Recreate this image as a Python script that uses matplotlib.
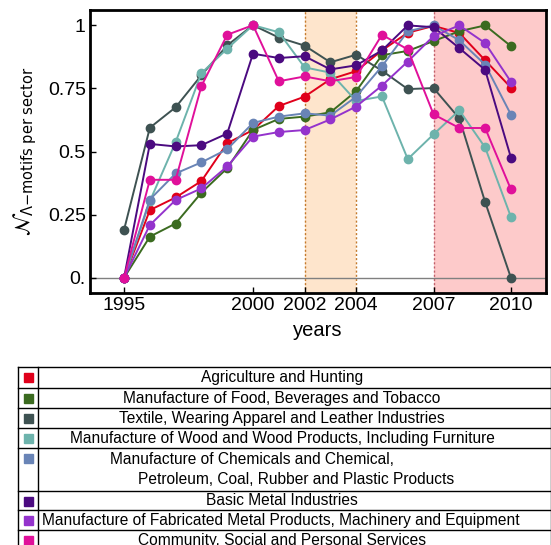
import matplotlib
matplotlib.use('Agg')
import matplotlib.pyplot as plt
from matplotlib.patches import Rectangle

plt.rcParams['font.family'] = ['Liberation Sans', 'DejaVu Sans']
plt.rcParams['mathtext.fontset'] = 'dejavusans'

################################################################################
years = list(range(1995, 2011))

sectors = [
    'Agriculture and Hunting',
    'Manufacture of Food, Beverages and Tobacco',
    'Textile, Wearing Apparel and Leather Industries',
    'Manufacture of Wood and Wood Products, Including Furniture',
    'Manufacture of Chemicals and Chemical,\nPetroleum, Coal, Rubber and Plastic Products',
    'Basic Metal Industries',
    'Manufacture of Fabricated Metal Products, Machinery and Equipment',
    'Community, Social and Personal Services',
]
colors = ['#e0001b', '#3b6b20', '#3e5252', '#6db3ac',
          '#6984b6', '#4b0a80', '#9433cc', '#e0109a']

agriculture = [0, 0.268, 0.318, 0.383, 0.533, 0.585, 0.68, 0.717,
               0.786, 0.818, 0.90, 0.97, 0.997, 0.969, 0.861, 0.753]
food = [0, 0.163, 0.215, 0.337, 0.434, 0.585, 0.629, 0.638,
        0.655, 0.739, 0.881, 0.898, 0.937, 0.976, 0.999, 0.917]
textile = [0.19, 0.594, 0.675, 0.802, 0.92, 1.0, 0.951, 0.919,
           0.853, 0.883, 0.82, 0.747, 0.751, 0.631, 0.30, 0.0]
wood = [0, 0.303, 0.537, 0.81, 0.907, 1.0, 0.972, 0.833,
        0.812, 0.70, 0.718, 0.47, 0.568, 0.663, 0.516, 0.241]
chemicals = [0, 0.31, 0.413, 0.457, 0.509, 0.613, 0.638, 0.651,
             0.642, 0.717, 0.837, 0.976, 0.999, 0.94, 0.844, 0.646]
basic_metal = [0, 0.53, 0.52, 0.525, 0.571, 0.887, 0.87, 0.877,
               0.825, 0.841, 0.90, 0.999, 0.992, 0.909, 0.823, 0.476]
fabricated = [0, 0.209, 0.308, 0.354, 0.441, 0.559, 0.577, 0.585,
              0.627, 0.678, 0.761, 0.856, 0.957, 0.999, 0.929, 0.776]
community = [0, 0.388, 0.388, 0.759, 0.962, 1.0, 0.778, 0.797,
             0.778, 0.795, 0.962, 0.904, 0.647, 0.593, 0.593, 0.35]
series = [agriculture, food, textile, wood, chemicals,
          basic_metal, fabricated, community]

xticks = [1995, 2000, 2002, 2004, 2007, 2010]
yticks = [0, 0.25, 0.5, 0.75, 1]
ytick_labels = ['0.', '0.25', '0.5', '0.75', '1']

################################################################################
W, H = 551, 545
fig = plt.figure(figsize=(W / 100, H / 100), dpi=100)
ax = fig.add_axes([90 / W, 1 - 293 / H, 456 / W, 283 / H])

ax.axvspan(2002, 2004, color='#fee5cc', lw=0, zorder=0)
ax.axvspan(2007, 2012, color='#fdcaca', lw=0, zorder=0)
for xv, c in [(2002, '#c47a2c'), (2004, '#c47a2c'), (2007, '#c0606a')]:
    ax.axvline(xv, color=c, lw=1, ls=(0, (1.5, 1.5)), zorder=1)
ax.axhline(0, color='#808080', lw=1, zorder=1)

for vals, c in zip(series, colors):
    ax.plot(years, vals, color=c, lw=1.4, marker='o', ms=6, zorder=3)

ax.set_xlim(1993.68, 2011.36)
ax.set_ylim(-0.06, 1.06)
ax.set_xticks(xticks)
ax.set_yticks(yticks)
ax.set_yticklabels(ytick_labels)
ax.tick_params(labelsize=14, direction='in', length=4, width=1, pad=3)
for sp in ax.spines.values():
    sp.set_linewidth(2)
ax.set_xlabel('years', fontsize=14.5, labelpad=5)
ax.set_ylabel(r'$\mathcal{N}_{\Lambda\mathrm{-motifs\ per\ sector}}$',
              fontsize=15, labelpad=6)

################################################################################
# legend table in pixel coordinates
tab = fig.add_axes([0, 0, 1, 1])
tab.set_xlim(0, W)
tab.set_ylim(H, 0)
tab.axis('off')
rows = [367, 388, 408, 428, 448, 491, 510, 530, 551]
x_left, x_div, x_right = 18, 38, 551
for i in range(len(rows)):
    tab.plot([x_left, x_right], [rows[i], rows[i]], color='black', lw=1)
tab.plot([x_left, x_left], [rows[0], rows[-1]], color='black', lw=1)
tab.plot([x_div, x_div], [rows[0], rows[-1]], color='black', lw=1)
tab.plot([x_right - 0.5, x_right - 0.5], [rows[0], rows[-1]], color='black', lw=1)
fs = 11.2
for i, (name, c) in enumerate(zip(sectors, colors)):
    y0 = rows[i]
    tab.add_patch(Rectangle((24, y0 + 6), 9, 9, color=c))
    if '\n' in name:
        l1, l2 = name.split('\n')
        tab.text(252, y0 + 11, l1, ha='center', va='center', fontsize=fs)
        tab.text(296, y0 + 32, l2, ha='center', va='center', fontsize=fs)
    elif len(name) > 60:
        yc = (rows[i] + rows[i + 1]) / 2
        tab.text(42, yc, name, ha='left', va='center', fontsize=fs)
    else:
        yc = (rows[i] + rows[i + 1]) / 2
        tab.text(282, yc, name, ha='center', va='center', fontsize=fs)

fig.savefig('out.png', dpi=100)
